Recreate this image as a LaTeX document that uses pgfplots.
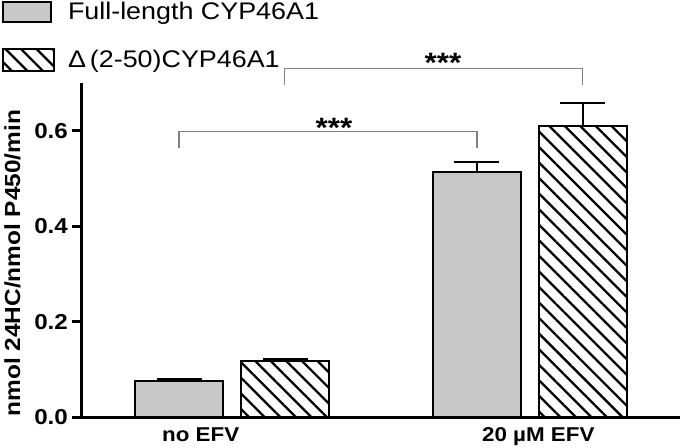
\documentclass[border=0pt]{standalone}
\usepackage{fontspec}
\setmainfont{Liberation Sans}[FakeStretch=1.12]
\usepackage{pgfplots}
\pgfplotsset{compat=1.18}
\usetikzlibrary{patterns.meta}
\definecolor{barg}{RGB}{200,200,200}
\definecolor{brk}{RGB}{130,130,130}
\pgfplotsset{
  boxA/.style={legend image code/.code={\draw[##1, line width=1pt] (0pt,-5pt) rectangle (24pt,5pt);}},
  boxB/.style={legend image code/.code={\draw[##1, line width=1pt] (0pt,-5.5pt) rectangle (25.5pt,5.5pt);}},
}
\begin{document}
\begin{tikzpicture}
\begin{axis}[
  at={(0,0)}, anchor=south west,
  scale only axis, width=299.15pt, height=167.2pt,
  xmin=-0.5044, xmax=1.5034, ymin=0, ymax=0.7,
  axis x line*=bottom, axis y line*=left,
  xtick pos=bottom, ytick pos=left,
  axis line style={line width=1.5pt},
  clip=false,
  ybar, bar width=43.75pt,
  xtick={-0.105,1.028}, xticklabels={no EFV, 20 µM EFV},
  xtick style={draw=none},
  ytick={0,0.2,0.4,0.6},
  ytick style={line width=1.5pt, black},
  tick align=outside, major tick length=5pt,
  /pgf/number format/fixed, /pgf/number format/fixed zerofill,
  /pgf/number format/precision=1, /pgf/number format/assume math mode=true,
  yticklabel style={font=\bfseries\fontsize{10.8}{12}\selectfont, inner sep=1.7pt},
  xticklabel style={font=\bfseries\fontsize{10}{12}\selectfont, inner sep=0pt},
  ylabel={nmol 24HC/nmol P450/min},
  ylabel style={font=\bfseries\fontsize{10.9}{12}\selectfont, at={(axis description cs:-0.1157,0.461)}, anchor=center, inner sep=0pt},
  legend style={at={(axis description cs:-0.1332,1.245)}, anchor=north west, draw=none, fill=none,
    inner sep=0pt, outer sep=0pt, row sep=12.5pt, column sep=6.5pt, nodes={inner sep=0pt},
    font=\fontsize{12}{12}\selectfont},
  legend cell align=left,
]
\addplot[fill=barg, draw=black, line width=1pt, bar shift=-26.5pt, boxA,
  error bars/.cd, y dir=plus, y explicit,
  error bar style={line width=1pt, black, solid},
  error mark options={rotate=90, line width=1pt, black, mark size=11.25pt}]
  coordinates {(0,0.076) +- (0,0.0036) (1,0.514) +- (0,0.021)};
\addlegendentry{Full-length CYP46A1}
\addplot[draw=black, line width=1pt, bar shift=26.5pt, boxB,
  pattern={Lines[angle=-45,distance=5.5pt,line width=1.15pt]},
  error bars/.cd, y dir=plus, y explicit,
  error bar style={line width=1pt, black, solid},
  error mark options={rotate=90, line width=1pt, black, mark size=11.25pt}]
  coordinates {(0,0.117) +- (0,0.0055) (1,0.610) +- (0,0.047)};
\addlegendentry{Δ\,(2-50)CYP46A1}
\draw[brk, line width=0.75pt] (axis cs:-0.1779,0.563) -- (axis cs:-0.1779,0.598) -- (axis cs:0.822,0.598) -- (axis cs:0.822,0.563);
\draw[brk, line width=0.75pt] (axis cs:0.176,0.6956) -- (axis cs:0.176,0.7306) -- (axis cs:1.176,0.7306) -- (axis cs:1.176,0.6956);
\node[font=\bfseries\fontsize{14}{14}\selectfont] at (axis cs:0.342,0.606) {***};
\node[font=\bfseries\fontsize{14}{14}\selectfont] at (axis cs:0.708,0.7426) {***};
\end{axis}
\pgfresetboundingbox
\path[use as bounding box] (-40.85pt,-15.35pt) rectangle (299.15pt,208.65pt);
\end{tikzpicture}
\end{document}
